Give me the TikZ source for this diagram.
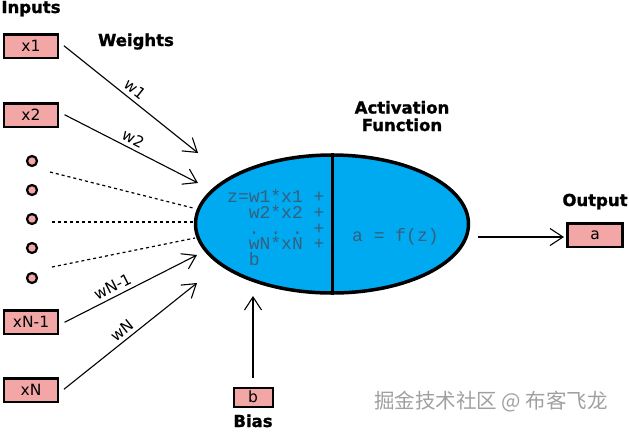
\documentclass[tikz,border=0pt]{standalone}
\usepackage{fontspec}
\setmainfont{DejaVu Sans}
\newfontfamily\titlefont{DejaVu Sans Bold}[FakeBold=1.3]
\newfontfamily\monofont{Liberation Mono}
\newfontfamily\cjkfont{Noto Sans CJK SC}
\usetikzlibrary{arrows.meta,shapes.geometric}
\definecolor{boxpink}{RGB}{242,166,166}
\definecolor{neuronblue}{RGB}{0,170,240}
\definecolor{formulagray}{RGB}{55,95,125}
\definecolor{markgray}{RGB}{160,160,160}
\begin{document}
\begin{tikzpicture}[x=1pt,y=-1pt,
 inbox/.style={draw=black, line width=2.5pt, fill=boxpink, minimum width=54pt, minimum height=23.5pt, inner sep=0pt, font=\fontsize{15.5}{16}\selectfont},
 dotnode/.style={circle, draw=black, line width=2.2pt, fill=boxpink, minimum size=10pt, inner sep=0pt},
 title/.style={anchor=base, inner sep=0pt, font=\titlefont\fontsize{16.5}{18}\selectfont},
 warrow/.style={line width=1.1pt, -{Straight Barb[length=13pt,width=17pt,line width=1.1pt]}},
 dashline/.style={line width=1.2pt, dash pattern=on 3pt off 3pt},
 wlabel/.style={sloped, above, inner sep=4pt, font=\fontsize{15.5}{16}\selectfont},
 mono/.style={anchor=base west, inner sep=0pt, text=formulagray, font=\monofont\fontsize{18}{16}\selectfont}
]
\useasboundingbox (0,0) rectangle (629,432);

% titles
\node[title] (tin) at (31,13) {Inputs};
\node[title] (tw) at (136,46) {Weights};
\node[title, align=center] (tact) at (402,131) {Activation\\[-0.5pt]Function};
\node[title] (tout) at (595,206) {Output};
\node[title] (tbias) at (253,427) {Bias};

% inputs
\node[inbox] (x1) at (31,46) {x1};
\node[inbox] (x2) at (31,115) {x2};
\node[inbox] (xN1) at (31,322) {xN-1};
\node[inbox] (xN) at (31,390) {xN};
\node[dotnode] (d1) at (32,161) {};
\node[dotnode] (d2) at (32,190) {};
\node[dotnode] (d3) at (32,219) {};
\node[dotnode] (d4) at (32,248) {};
\node[dotnode] (d5) at (32,278) {};

% neuron
\node[ellipse, draw=black, line width=3.5pt, fill=neuronblue, minimum width=273pt, minimum height=138pt, inner sep=0pt] (neuron) at (332,224) {};
\draw[line width=3pt] (neuron.north) -- (neuron.south);

\node[mono] (f1) at (227,202) {z=w1*x1~+};
\node[mono] (f2) at (227,218) {~~w2*x2~+};
\node[mono] (f3) at (227,234) {~~.~.~.~+};
\node[mono] (f4) at (227,249) {~~wN*xN~+};
\node[mono] (f5) at (227,265) {~~b};
\node[mono] (fa) at (352,241) {a~=~f(z)};

% bias and output boxes
\node[inbox, line width=2pt, minimum width=39pt, minimum height=19pt] (b) at (253,397) {b};
\node[inbox, minimum width=55pt] (a) at (595,235) {a};

% arrow tips
\coordinate (t1) at (198,153);
\coordinate (t2) at (198,183);
\coordinate (t3) at (197,255);
\coordinate (t4) at (197,283);
\coordinate (tb) at (253,296);
\coordinate (os) at (478,237);
\coordinate (ot) at (564,237);

\draw[warrow, shorten <=6pt] ([yshift=4pt]x1.east) -- node[wlabel, pos=0.5] {w1} (t1);
\draw[warrow, shorten <=6pt] ([yshift=3pt]x2.east) -- node[wlabel, pos=0.5] {w2} (t2);
\draw[warrow, shorten <=6pt] ([yshift=-3pt]xN1.east) -- node[wlabel, pos=0.42] {wN-1} (t3);
\draw[warrow, shorten <=6pt] ([yshift=-3pt]xN.east) -- node[wlabel, pos=0.5] {wN} (t4);
\draw[warrow, shorten <=9pt] (b.north) -- (tb);
\draw[warrow] (os) -- (ot);

% dashed lines
\coordinate (ds1) at (50,172);
\coordinate (de1) at (193,208);
\coordinate (ds2) at (52,222);
\coordinate (de2) at (195,222);
\coordinate (ds3) at (52,267);
\coordinate (de3) at (195,238);
\draw[dashline] (ds1) -- (de1);
\draw[dashline] (ds2) -- (de2);
\draw[dashline] (ds3) -- (de3);

% watermark
\node[inner sep=0pt, text=markgray, font=\cjkfont\fontsize{20.5}{22}\selectfont] (wm) at (491,402) {掘金技术社区 @ 布客飞龙};
\end{tikzpicture}
\end{document}
